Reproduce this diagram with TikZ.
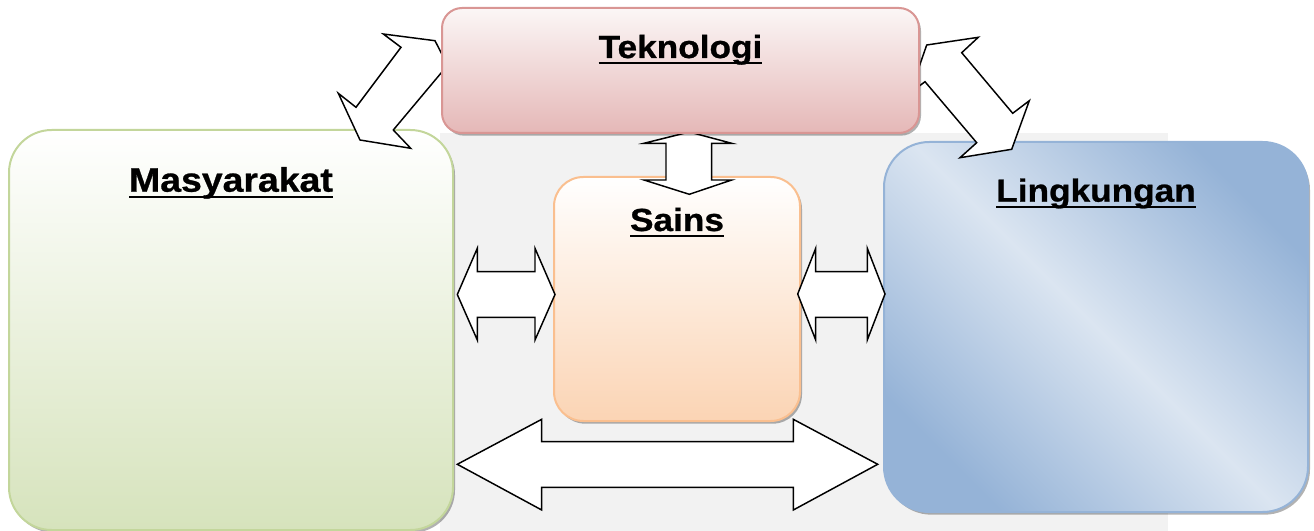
\documentclass[tikz,border=0pt]{standalone}
\usepackage{fontspec}
\setmainfont{Liberation Sans}
\newfontfamily\titlefont[FakeStretch=1.1,FakeBold=0.8]{Liberation Sans}
\usetikzlibrary{shadows}

\definecolor{masyline}{RGB}{195,214,155}
\definecolor{masyfill}{RGB}{214,227,188}
\definecolor{tekline}{RGB}{217,150,148}
\definecolor{tektop}{RGB}{251,246,246}
\definecolor{tekfill}{RGB}{229,184,183}
\definecolor{sainsline}{RGB}{250,191,143}
\definecolor{sainsfill}{RGB}{251,212,180}
\definecolor{lingline}{RGB}{149,179,215}
\definecolor{lingdark}{RGB}{149,179,215}
\definecolor{linglight}{RGB}{219,229,241}
\definecolor{backgray}{RGB}{242,242,242}

\newcommand{\ultitle}[1]{\setbox0\hbox{#1}\rlap{\vrule height -3pt depth 4.8pt width \wd0}\box0}

\tikzset{every picture/.style={line width=1pt}}
\tikzset{
  box/.style={rectangle, draw, line width=1.5pt, inner sep=0pt,
    drop shadow={shadow xshift=1.5pt, shadow yshift=-2pt, opacity=0.3, fill=black}},
  title/.style={font=\titlefont\bfseries\fontsize{24}{28}\selectfont, anchor=base, inner sep=0pt},
  blockarrow/.style={draw=black, fill=white, line width=1.1pt, line join=miter}
}

\begin{document}
\begin{tikzpicture}[x=0.75pt,y=0.75pt,yscale=-1,xscale=1]
\useasboundingbox (0,0) rectangle (1314,531);

%Shape: Rectangle [background]
\fill [backgray] (440,133) rectangle (1168,531);

%Shape: Rounded Rect [Masyarakat]
\node [box, rounded corners=32pt, draw=masyline, top color=white, bottom color=masyfill, minimum width=333pt, minimum height=300pt] (masy) at (231,330) {};
%Shape: Rounded Rect [Lingkungan]
\node [box, rounded corners=34pt, draw=lingline, top color=lingdark, bottom color=lingdark, middle color=linglight, shading angle=-45, minimum width=318pt, minimum height=277.5pt] (ling) at (1096,327) {};
%Shape: Rounded Rect [Sains]
\node [box, rounded corners=22pt, draw=sainsline, top color=white, bottom color=sainsfill, minimum width=184.5pt, minimum height=183pt] (sains) at (677,299) {};

%Shape: Up-Down Arrow
\draw [blockarrow] (689.3,132) -- (731.7,143.3) -- (711.7,143.3) -- (711.7,180) -- (731.7,180) -- (689.3,194.3) -- (644,180) -- (666,180) -- (666,143.3) -- (644,143.3) -- cycle ;
%Shape: Diagonal Arrow [left]
\draw [blockarrow] (401,47.3) -- (383.3,34) -- (435,40.7) -- (455,80) -- (444,69.5) -- (393.3,130) -- (410.7,148.3) -- (360,140) -- (338.3,93.3) -- (356,107.3) -- cycle ;
%Shape: Diagonal Arrow [right]
\draw [blockarrow] (926.7,45) -- (978.3,37.3) -- (961.7,52.7) -- (1012.7,113.3) -- (1029.3,100.7) -- (1011.7,149.3) -- (960,157.7) -- (976.7,142.7) -- (925,81.7) -- (910,93) -- cycle ;

%Shape: Rounded Rect [Teknologi]
\node [box, rounded corners=15pt, draw=tekline, top color=tektop, bottom color=tekfill, minimum width=357.75pt, minimum height=93.75pt] (tek) at (680.5,70.5) {};

%Shape: Left-Right Arrow [Masyarakat - Sains]
\draw [blockarrow] (457.3,294.5) -- (477.3,248.3) -- (477.3,271.7) -- (535,271.7) -- (535,248.3) -- (555,294.5) -- (535,340) -- (535,317.3) -- (477.3,317.3) -- (477.3,340) -- cycle ;
%Shape: Left-Right Arrow [Sains - Lingkungan]
\draw [blockarrow] (797.7,294) -- (815.7,248.3) -- (815.7,271.7) -- (867.3,271.7) -- (867.3,248.3) -- (885,294) -- (867.3,340) -- (867.3,317.3) -- (815.7,317.3) -- (815.7,340) -- cycle ;
%Shape: Left-Right Arrow [Masyarakat - Lingkungan]
\draw [blockarrow] (457.3,464.3) -- (541.7,419.3) -- (541.7,441.7) -- (793.3,441.7) -- (793.3,419.3) -- (877.7,464.3) -- (793.3,510) -- (793.3,487.3) -- (541.7,487.3) -- (541.7,510) -- cycle ;

% Text Node
\node [title] (tek-t) at (680.5,58) {\ultitle{Teknologi}};
% Text Node
\node [title, font=\titlefont\bfseries\fontsize{25.5}{30}\selectfont] (masy-t) at (231,191.7) {\ultitle{Masyarakat}};
% Text Node
\node [title] (sains-t) at (677,231) {\ultitle{Sains}};
% Text Node
\node [title] (ling-t) at (1096,201.7) {\ultitle{Lingkungan}};

\end{tikzpicture}
\end{document}
